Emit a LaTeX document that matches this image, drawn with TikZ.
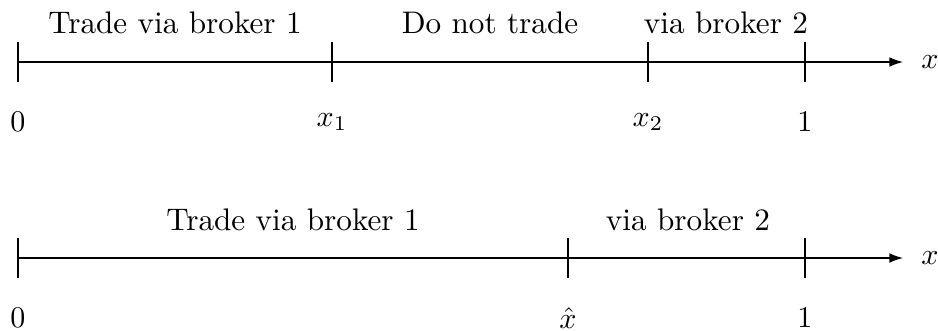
\documentclass[tikz,border=0pt]{standalone}
\usetikzlibrary{arrows.meta}
\begin{document}
\begin{tikzpicture}[x=0.3333pt,y=-0.3333pt,
  axisline/.style={-{Latex[length=4.5pt,width=3.2pt]},line width=0.4pt},
  tickmark/.style={line width=0.4pt},
  lbl/.style={inner sep=0pt,anchor=center,font=\fontsize{10.4pt}{12.5pt}\selectfont}]
\useasboundingbox (0,0) rectangle (938,330);
% top axis
\coordinate (a0) at (18,62);
\coordinate (aend) at (903,62);
\draw[axisline] (a0) -- (aend);
\node[lbl] (ax) at (930,62) {$x$};
\foreach \n/\xx in {t0/18,t1/332,t2/648,t3/805}{
  \coordinate (\n u) at (\xx,42);
  \coordinate (\n d) at (\xx,82);
  \draw[tickmark] (\n u) -- (\n d);
}
\node[lbl] (l0) at (18,122) {$0$};
\node[lbl] (l1) at (332,122) {$x_1$};
\node[lbl] (l2) at (648,122) {$x_2$};
\node[lbl] (l3) at (805,122) {$1$};
\node[lbl] (r1) at (175,22.5) {Trade via broker 1};
\node[lbl] (r2) at (490,22.5) {Do not trade};
\node[lbl] (r3) at (726,22.5) {via broker 2};
% bottom axis
\coordinate (b0) at (18,258);
\coordinate (bend) at (903,258);
\draw[axisline] (b0) -- (bend);
\node[lbl] (bx) at (930,258) {$x$};
\foreach \n/\xx in {s0/18,s1/568,s2/805}{
  \coordinate (\n u) at (\xx,238);
  \coordinate (\n d) at (\xx,278);
  \draw[tickmark] (\n u) -- (\n d);
}
\node[lbl] (m0) at (18,318) {$0$};
\node[lbl] (m1) at (568,318) {$\hat{x}$};
\node[lbl] (m2) at (805,318) {$1$};
\node[lbl] (q1) at (293,219.5) {Trade via broker 1};
\node[lbl] (q2) at (688,219.5) {via broker 2};
\end{tikzpicture}
\end{document}
